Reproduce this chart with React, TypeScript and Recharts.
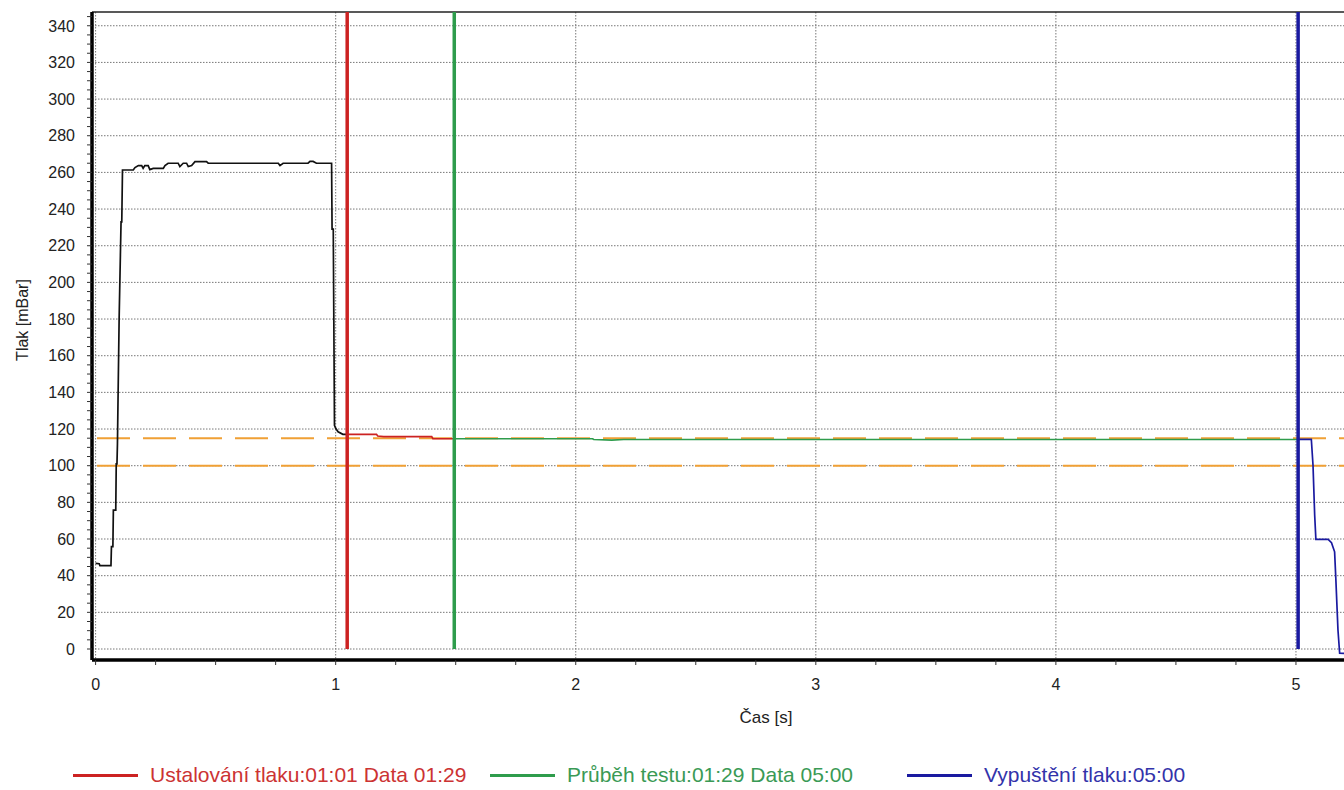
import { LineChart, Line, XAxis, YAxis, CartesianGrid, ReferenceLine, Legend } from "recharts"

const FONT = '"Liberation Sans", Arial, Helvetica, sans-serif'

// natlakování (čas [s], tlak [mBar])
const fillT = [
  0, 0.015, 0.018, 0.064, 0.066, 0.072, 0.074, 0.084, 0.086, 0.089, 0.091, 0.093, 0.098, 0.106, 0.109,
  0.112, 0.157, 0.164, 0.178, 0.192, 0.198, 0.205, 0.219, 0.226, 0.24, 0.282, 0.289, 0.302, 0.344, 0.351,
  0.365, 0.379, 0.386, 0.4, 0.414, 0.462, 0.469, 0.761, 0.768, 0.781, 0.885, 0.893, 0.906, 0.92, 0.983,
  0.985, 0.99, 0.995, 1.0, 1.01, 1.03, 1.048,
]
const fillP = [
  46.7, 46.5, 45.5, 45.5, 55.8, 55.8, 75.8, 75.8, 101, 101, 112, 132, 180, 233, 233,
  261.3, 261.3, 262.6, 263.7, 263.7, 262.2, 263.7, 263.7, 261.5, 262.2, 262.2, 263.7, 265, 265, 263.2,
  265, 265, 263.2, 263.7, 265.9, 265.9, 265, 265, 263.7, 265, 265, 266, 266, 265, 265,
  229, 229, 122, 120.4, 118.5, 117.1, 117.1,
]

// ustalování tlaku
const settleT = [1.048, 1.17, 1.175, 1.2, 1.4, 1.405, 1.494]
const settleP = [117.1, 117.1, 116.2, 115.9, 115.9, 114.7, 114.7]

// průběh testu
const testT = [1.494, 2.07, 2.075, 2.15, 2.2, 5.009]
const testP = [114.7, 114.7, 114.3, 114.0, 114.3, 114.3]

// vypuštění tlaku
const ventT = [5.009, 5.064, 5.071, 5.078, 5.083, 5.134, 5.148, 5.161, 5.166, 5.175, 5.182, 5.25]
const ventP = [114.4, 114.4, 100.4, 73, 59.8, 59.8, 58, 53, 38.6, 10.4, -2.3, -2.5]

const phaseTimes = [1.048, 1.494, 5.009]
const phaseNames = [
  "Ustalování tlaku:01:01 Data 01:29",
  "Průběh testu:01:29 Data 05:00",
  "Vypuštění tlaku:05:00",
]
const phaseColors = ["#cc2222", "#2e9c4c", "#1a1aa0"]
const phaseTextColors = ["#cc3333", "#3a9a55", "#3333aa"]

const limits = [115, 100]

const xMajor = [0, 1, 2, 3, 4, 5]
const yMajor = [0, 20, 40, 60, 80, 100, 120, 140, 160, 180, 200, 220, 240, 260, 280, 300, 320, 340]
const xDomain = [-0.015, 5.6]
const yDomain = [-6, 347.5]

const xTicks = Array.from({ length: 23 }, (_, i) => i * 0.25)
const yTicks = Array.from({ length: 70 }, (_, i) => i * 5)

const zip = (t: number[], p: number[]) => t.map((v, i) => ({ t: v, p: p[i] }))
const fill = zip(fillT, fillP)
const settle = zip(settleT, settleP)
const test = zip(testT, testP)
const vent = zip(ventT, ventP)
const traces = [
  { data: settle, color: phaseColors[0] },
  { data: test, color: phaseColors[1] },
  { data: vent, color: phaseColors[2] },
]

function XTick({ x, y, payload }: any) {
  if (!xMajor.includes(payload.value)) return <g />
  return (
    <text x={x} y={y} dy="0.71em" textAnchor="middle" fontSize={16} fontFamily={FONT} fill="#222">
      {payload.value}
    </text>
  )
}

function YTick({ x, y, payload }: any) {
  if (!yMajor.includes(payload.value)) return <g />
  return (
    <text x={x} y={y} dy="0.36em" textAnchor="end" fontSize={16} fontFamily={FONT} fill="#222">
      {payload.value}
    </text>
  )
}

function LegendBox() {
  return (
    <div style={{ display: "flex", alignItems: "center", height: 30, paddingLeft: 73, fontFamily: FONT }}>
      {phaseNames.map((name, i) => (
        <div key={name} style={{ display: "flex", alignItems: "center", width: 417 }}>
          <span style={{ width: 65, height: 3, background: phaseColors[i], marginRight: 12 }} />
          <span style={{ color: phaseTextColors[i], fontSize: 21, whiteSpace: "nowrap" }}>{name}</span>
        </div>
      ))}
    </div>
  )
}

export default function App() {
  return (
    <div
      style={{
        position: "absolute",
        left: 0,
        top: 0,
        width: 1344,
        height: 790,
        overflow: "hidden",
        background: "#fff",
      }}
    >
      <LineChart width={1450} height={790} margin={{ top: 12, right: 10, left: 0, bottom: 0 }}>
        <CartesianGrid
          verticalValues={xMajor}
          horizontalValues={yMajor}
          stroke="#777"
          strokeDasharray="1.5 1.5"
        />
        <XAxis
          dataKey="t"
          type="number"
          domain={xDomain}
          allowDataOverflow
          ticks={xTicks}
          interval={0}
          tickSize={5}
          tickMargin={14}
          tick={XTick}
          axisLine={{ stroke: "#000", strokeWidth: 3.5 }}
          tickLine={{ stroke: "#333" }}
          height={100}
          label={({ viewBox }: any) => (
            <text
              x={viewBox.x + viewBox.width / 2}
              y={viewBox.y + 63}
              textAnchor="middle"
              fontSize={17}
              fontFamily={FONT}
              fill="#222"
            >
              Čas [s]
            </text>
          )}
        />
        <YAxis
          type="number"
          domain={yDomain}
          allowDataOverflow
          ticks={yTicks}
          interval={0}
          width={92}
          tickSize={5}
          tickMargin={12}
          tick={YTick}
          axisLine={{ stroke: "#000", strokeWidth: 3.5 }}
          tickLine={{ stroke: "#333" }}
          label={({ viewBox }: any) => {
            const cx = 22
            const cy = viewBox.y + viewBox.height / 2 - 16
            return (
              <text
                x={cx}
                y={cy}
                transform={`rotate(-90, ${cx}, ${cy})`}
                textAnchor="middle"
                dominantBaseline="central"
                fontSize={16}
                fontFamily={FONT}
                fill="#222"
              >
                Tlak [mBar]
              </text>
            )
          }}
        />
        <ReferenceLine y={yDomain[1]} stroke="#222" strokeWidth={1.5} />
        {limits.map((v) => (
          <ReferenceLine
            key={v}
            y={v}
            stroke="#f0a035"
            strokeWidth={2}
            strokeDasharray="33 13"
            strokeDashoffset={-5}
          />
        ))}
        <Line
          data={fill}
          dataKey="p"
          stroke="#111"
          strokeWidth={1.7}
          dot={false}
          isAnimationActive={false}
        />
        {traces.map((tr, i) => (
          <Line
            key={"trace" + i}
            data={tr.data}
            dataKey="p"
            stroke={tr.color}
            strokeWidth={1.7}
            dot={false}
            isAnimationActive={false}
          />
        ))}
        {phaseTimes.map((t, i) => (
          <Line
            key={"phase" + i}
            data={[
              { t, p: 0 },
              { t, p: yDomain[1] },
            ]}
            dataKey="p"
            stroke={phaseColors[i]}
            strokeWidth={3.5}
            dot={false}
            isAnimationActive={false}
          />
        ))}
        <Legend verticalAlign="bottom" height={30} content={() => <LegendBox />} />
      </LineChart>
    </div>
  )
}
